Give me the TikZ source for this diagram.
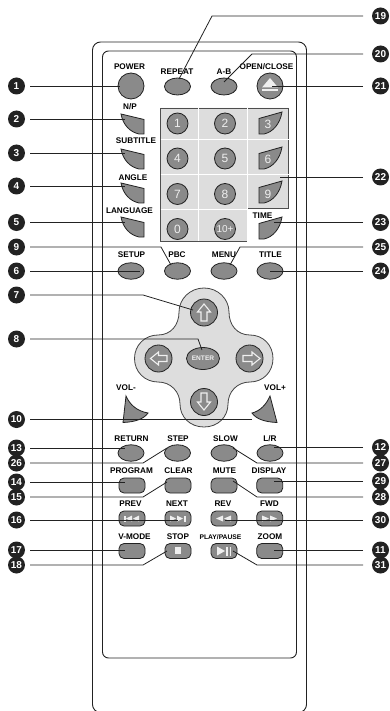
\documentclass[tikz,border=0pt]{standalone}
\usepackage{fontspec}
\setmainfont{Liberation Sans}
\usetikzlibrary{shapes.geometric}
\definecolor{btn}{HTML}{8A8A8A}
\definecolor{pan}{HTML}{DDDDDD}
\definecolor{ink}{HTML}{222222}
\definecolor{icon}{HTML}{EFEFEF}
\tikzset{
  x=1pt,y=-1pt,
  body/.style={draw=ink,line width=0.9pt,rounded corners=8pt},
  ovalbtn/.style={ellipse,draw=ink,fill=btn,line width=0.8pt,minimum width=26pt,minimum height=16.5pt,inner sep=0pt},
  roundbtn/.style={circle,draw=ink,fill=btn,line width=0.8pt,minimum size=26pt,inner sep=0pt},
  numbtn/.style={circle,draw=ink,fill=btn,line width=0.8pt,minimum size=21pt,inner sep=0pt,text=icon,font=\fontsize{12}{12}\selectfont},
  padbtn/.style={circle,draw=ink,fill=btn,line width=0.8pt,minimum size=27pt,inner sep=0pt},
  rectbtn/.style={rectangle,rounded corners=5pt,draw=ink,fill=btn,line width=0.8pt,minimum width=26pt,minimum height=15pt,inner sep=0pt},
  wedge/.style={draw=ink,fill=btn,line width=0.8pt},
  lbl/.style={font=\fontsize{8.2}{9}\selectfont\bfseries,inner sep=0pt,text=black},
  badge/.style={circle,fill=ink,text=white,minimum size=17pt,inner sep=0pt,outer sep=5pt,font=\fontsize{10}{10}\selectfont\bfseries},
  rbadge/.style={badge,outer sep=9pt},
  conn/.style={draw=ink,line width=0.8pt},
  hollow/.style={draw=icon,fill=btn,line width=1.1pt,line join=miter},
  glyph/.style={fill=icon,draw=none},
  wnum/.style={text=icon,font=\fontsize{12}{12}\selectfont,inner sep=0pt}
}
\newcommand{\wedgeL}[1]{\draw[wedge] (121,#1) -- (144,#1+5.5) -- (144,#1+20) -- (139,#1+20) .. controls (130,#1+18) and (123,#1+11) .. (121,#1) -- cycle;}
\newcommand{\wedgeR}[1]{\draw[wedge] (282,#1) -- (259,#1+6.5) -- (259,#1+22) -- (264,#1+22) .. controls (273,#1+20) and (280,#1+12) .. (282,#1) -- cycle;}
\begin{document}
\begin{tikzpicture}
\useasboundingbox (0,0) rectangle (390,711);
\begin{scope}
\clip (0,0) rectangle (390,711);
\draw[body] (92.5,712.5) -- (92.5,42) -- (306.5,42) -- (306.5,712.5) -- cycle;
\end{scope}
\draw[body,rounded corners=6pt] (102.5,51) rectangle (296.5,658);

% number panel
\fill[pan] (160.5,108) -| (288.5,208.5) -| (247,241) -| cycle;
\draw[draw=ink!80,line width=0.8pt] (247,208.5) -- (288.5,208.5) -- (288.5,108) -- (160.5,108) -- (160.5,241) -- (247,241);
\foreach \yy in {140,175,209.5} \draw[white,line width=1pt] (160.5,\yy) -- (247,\yy);
\foreach \yy in {140,175} \draw[white,line width=1pt] (247,\yy) -- (289,\yy);
\draw[white,line width=1pt] (198.5,108) -- (198.5,241);
\draw[white,line width=1pt] (247.5,108) -- (247.5,241);

% d-pad
\draw[draw=ink!85,fill=pan,line width=0.8pt] (204,288)
 .. controls (218,288) and (229,299) .. (229,312)
 .. controls (229,325) and (237,335) .. (250,335)
 .. controls (263,335) and (273,345) .. (273,358.5)
 .. controls (273,372) and (263,382) .. (250,382)
 .. controls (237,382) and (228,392) .. (228,404)
 .. controls (228,417) and (218,427) .. (204,427)
 .. controls (190,427) and (180,417) .. (180,404)
 .. controls (180,392) and (171,382) .. (158,382)
 .. controls (145,382) and (134.5,372) .. (134.5,358.5)
 .. controls (134.5,345) and (145,335) .. (158,335)
 .. controls (171,335) and (179,325) .. (179,312)
 .. controls (179,299) and (190,288) .. (204,288) -- cycle;

% top row
\node[roundbtn] (power) at (131,86) {};
\node[ovalbtn,minimum height=17pt] (repeat) at (177.5,86.5) {};
\node[ovalbtn,minimum height=17pt] (ab) at (224,86.5) {};
\node[roundbtn] (eject) at (270,86) {};
\fill[glyph] (270,78) -- (278,87.5) -- (262,87.5) -- cycle;
\fill[glyph] (262,89.5) rectangle (278,91.5);

% wedges
\foreach \yy in {114,149,183,217} {\wedgeL{\yy}}
\foreach \yy in {112,147,181,217} {\wedgeR{\yy}}
\node[wnum] (k3) at (268,124) {3};
\node[wnum] (k6) at (268,159) {6};
\node[wnum] (k9) at (268,194) {9};

% number keys
\node[numbtn] (k1) at (177.5,123.5) {1};
\node[numbtn] (k2) at (225,123.5) {2};
\node[numbtn] (k4) at (177.5,158.5) {4};
\node[numbtn] (k5) at (225,158.5) {5};
\node[numbtn] (k7) at (177.5,194) {7};
\node[numbtn] (k8) at (225,194) {8};
\node[numbtn] (k0) at (177.5,229) {0};
\node[numbtn,font=\fontsize{10}{10}\selectfont] (k10) at (225,229) {10+};

% oval row
\node[ovalbtn] (setup) at (131,271) {};
\node[ovalbtn] (pbc) at (177.5,271) {};
\node[ovalbtn] (menu) at (224,271) {};
\node[ovalbtn] (title) at (270,271) {};

% d-pad keys
\node[padbtn] (up) at (204,312.5) {};
\node[padbtn] (left) at (158.5,358.5) {};
\node[padbtn] (right) at (249.5,358.5) {};
\node[padbtn] (down) at (204,402) {};
\node[ellipse,draw=ink,fill=btn,line width=0.8pt,minimum width=33pt,minimum height=22pt,inner sep=0pt,text=icon,font=\fontsize{6.6}{7}\selectfont\bfseries] (enter) at (203,358.5) {ENTER};
\draw[hollow] (204,304) -- (210.5,312) -- (207,312) -- (207,321) -- (201,321) -- (201,312) -- (197.5,312) -- cycle;
\draw[hollow] (204,410) -- (210.5,402) -- (207,402) -- (207,393) -- (201,393) -- (201,402) -- (197.5,402) -- cycle;
\draw[hollow] (150.5,358.5) -- (158.5,352) -- (158.5,355.5) -- (167,355.5) -- (167,361.5) -- (158.5,361.5) -- (158.5,365) -- cycle;
\draw[hollow] (260,358.5) -- (252,352) -- (252,355.5) -- (243,355.5) -- (243,361.5) -- (252,361.5) -- (252,365) -- cycle;

% volume
\draw[wedge] (126,396) .. controls (130,405) and (137,411) .. (148,413) .. controls (144,419) and (135,422) .. (123,422.5) -- cycle;
\draw[wedge] (270,396) .. controls (266,405) and (260,411) .. (252,413) .. controls (256,419) and (265,422) .. (277,422.5) -- cycle;

% lower ovals
\node[ovalbtn] (return) at (131,453) {};
\node[ovalbtn] (step) at (177.5,453) {};
\node[ovalbtn] (slow) at (224,453) {};
\node[ovalbtn] (lr) at (270,453) {};
% rect rows
\node[rectbtn] (program) at (132,485.5) {};
\node[rectbtn] (clear) at (178,485.5) {};
\node[rectbtn] (mute) at (224,485.5) {};
\node[rectbtn] (display) at (269.7,485.5) {};
\node[rectbtn] (prev) at (132,518.5) {};
\node[rectbtn] (next) at (178,518.5) {};
\node[rectbtn] (rev) at (224,518.5) {};
\node[rectbtn] (fwd) at (269.7,518.5) {};
\node[rectbtn] (vmode) at (132,551) {};
\node[rectbtn] (stop) at (178,551) {};
\node[rectbtn] (play) at (224,551) {};
\node[rectbtn] (zoom) at (269.7,551) {};
% glyphs
\fill[glyph] (124,515.5) rectangle (125.5,521.5);
\fill[glyph] (126,518.5) -- (132,515.5) -- (132,521.5) -- cycle;
\fill[glyph] (133,518.5) -- (139,515.5) -- (139,521.5) -- cycle;
\fill[glyph] (170,515.5) -- (176,518.5) -- (170,521.5) -- cycle;
\fill[glyph] (177,515.5) -- (183,518.5) -- (177,521.5) -- cycle;
\fill[glyph] (184,515.5) rectangle (185.5,521.5);
\fill[glyph] (216,518.5) -- (223,515.5) -- (223,521.5) -- cycle;
\fill[glyph] (224,518.5) -- (231,515.5) -- (231,521.5) -- cycle;
\fill[glyph] (262,515.5) -- (269,518.5) -- (262,521.5) -- cycle;
\fill[glyph] (270,515.5) -- (277,518.5) -- (270,521.5) -- cycle;
\fill[glyph] (174.5,547) rectangle (181,553.5);
\fill[glyph] (217,546.5) -- (225,551) -- (217,555.5) -- cycle;
\fill[glyph] (226,546.5) rectangle (228,555.5);
\fill[glyph] (229.5,546.5) rectangle (231,555.5);

% labels
\node[lbl] (lpower) at (129.5,67) {POWER};
\node[lbl] (lrepeat) at (177,71.5) {REPEAT};
\node[lbl] (lab) at (224,72) {A-B};
\node[lbl] (lopen) at (266.5,67) {OPEN/CLOSE};
\node[lbl] (lnp) at (130,107) {N/P};
\node[lbl] (lsub) at (136,140.5) {SUBTITLE};
\node[lbl] (langl) at (133,177.5) {ANGLE};
\node[lbl] (llang) at (129.5,211) {LANGUAGE};
\node[lbl] (ltime) at (262.5,216) {TIME};
\node[lbl] (lsetup) at (131.5,254.5) {SETUP};
\node[lbl] (lpbc) at (177,254.5) {PBC};
\node[lbl] (lmenu) at (224,254.5) {MENU};
\node[lbl] (ltitle) at (270.5,254.5) {TITLE};
\node[lbl] (lvolm) at (126,388) {VOL-};
\node[lbl] (lvolp) at (275,388) {VOL+};
\node[lbl] (lreturn) at (131.5,438.5) {RETURN};
\node[lbl] (lstep) at (178,438.5) {STEP};
\node[lbl] (lslow) at (225.5,438.5) {SLOW};
\node[lbl] (llr) at (270,438.5) {L/R};
\node[lbl] (lprog) at (131.5,471) {PROGRAM};
\node[lbl] (lclear) at (178.5,471) {CLEAR};
\node[lbl] (lmute) at (224.5,471) {MUTE};
\node[lbl] (ldisp) at (269,471) {DISPLAY};
\node[lbl] (lprev) at (130.5,503.5) {PREV};
\node[lbl] (lnext) at (177,503.5) {NEXT};
\node[lbl] (lrev) at (223,503.5) {REV};
\node[lbl] (lfwd) at (269.5,503.5) {FWD};
\node[lbl] (lvm) at (134.5,537) {V-MODE};
\node[lbl] (lstop) at (178,537) {STOP};
\node[lbl,font=\fontsize{6.7}{7}\selectfont\bfseries] (lplay) at (220.5,537) {PLAY/PAUSE};
\node[lbl] (lzoom) at (270,537) {ZOOM};

% badges
\foreach \n/\yy in {1/86,2/119,3/153,4/186,5/222.5,9/247,6/271,7/295,8/339,10/419.5,13/448,26/463,14/482,15/497,16/520,17/550,18/565}
  \node[badge] (b\n) at (16.5,\yy) {\n};
\foreach \n/\yy in {19/16,20/54,21/86,22/177,23/222.5,25/247,24/271,12/447.5,27/463,29/481,28/497,30/520,11/550,31/565}
  \node[rbadge] (b\n) at (380.5,\yy) {\n};

% connector ends and bends
\foreach \n/\xx/\yy in {
 1/120/86,2/125/119,3/125/153,4/125/186,5/125/222.5,6/140/271,
 13/125/448,14/125/482,16/178/520,17/125/550,
 21/272/86,22/280/177,23/274/222.5,24/270/271,12/274/447.5,29/274/481,30/225/520,11/274/550,10/252/419.5}
  \coordinate (e\n) at (\xx,\yy);
\foreach \n/\bx/\by/\xx/\yy in {
 19/212/16/179/79,20/252/54/224/82,9/161/247/171/265,25/240/247/230/265,
 7/143/295/193/310,8/198/339/202/350,26/143/463/167/448,15/143/497/167/482,18/143/565/167/551,
 27/257/463/233/448,28/257/497/233/481,31/257/565/233/551}{
  \coordinate (n\n) at (\bx,\by);
  \coordinate (e\n) at (\xx,\yy);
}
\foreach \n in {1,2,3,4,5,6,10,13,14,16,17}
  \draw[conn] (b\n.east) -- (e\n);
\foreach \n in {21,22,23,24,12,29,30,11}
  \draw[conn] (b\n.west) -- (e\n);
\foreach \n in {9,7,8,26,15,18}
  \draw[conn] (b\n.east) -- (n\n) -- (e\n);
\foreach \n in {19,20,25,27,28,31}
  \draw[conn] (b\n.west) -- (n\n) -- (e\n);
\end{tikzpicture}
\end{document}
